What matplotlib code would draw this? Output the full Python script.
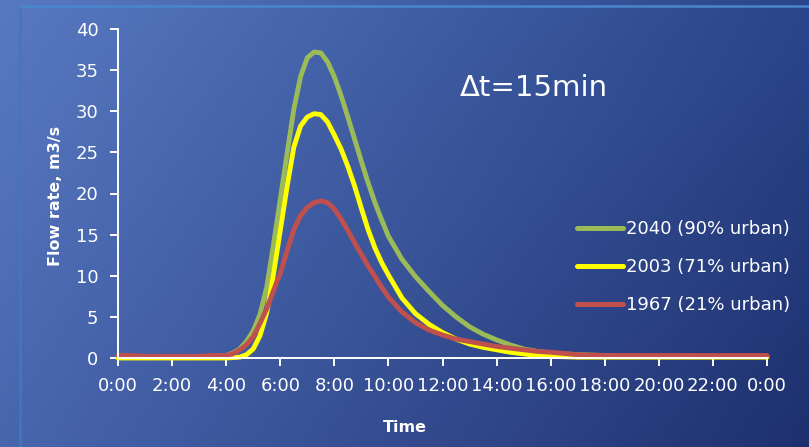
import numpy as np
import matplotlib
matplotlib.use("Agg")
import matplotlib.pyplot as plt
from matplotlib.lines import Line2D

# ---- data (hours, m3/s) ----
time_h = [0, 0.5, 1, 2, 3, 3.5,
          4.0, 4.25, 4.5, 4.75, 5.0, 5.25, 5.5, 5.75, 6.0, 6.25, 6.5, 6.75,
          7.0, 7.25, 7.5, 7.75, 8.0, 8.25, 8.5, 8.75, 9.0, 9.25, 9.5, 9.75, 10.0,
          10.5, 11, 11.5, 12, 12.5, 13, 13.5, 14, 14.5, 15, 15.5, 16,
          17, 18, 19, 20, 21, 22, 23, 24]

flow_2040 = [0.2, 0.2, 0.1, 0.1, 0.1, 0.2,
             0.3, 0.6, 1.1, 2.0, 3.3, 5.3, 8.6, 13.8, 19.3, 24.8, 30.2, 34.2,
             36.5, 37.2, 37.1, 36.0, 34.2, 31.9, 29.3, 26.6, 23.9, 21.3, 18.9, 16.8, 14.8,
             12.0, 9.9, 8.1, 6.4, 5.0, 3.8, 2.9, 2.2, 1.6, 1.1, 0.8, 0.6,
             0.4, 0.3, 0.2, 0.2, 0.2, 0.2, 0.2, 0.2]

flow_2003 = [0.0, 0.0, 0.0, 0.0, 0.0, 0.0,
             0.0, 0.05, 0.1, 0.4, 1.1, 2.7, 5.5, 10.2, 15.5, 20.8, 25.6, 28.2,
             29.3, 29.7, 29.6, 28.7, 27.1, 25.4, 23.3, 20.9, 18.2, 15.6, 13.4, 11.6, 10.1,
             7.3, 5.4, 4.1, 3.1, 2.3, 1.7, 1.3, 1.0, 0.7, 0.5, 0.3, 0.2,
             0.1, 0.1, 0.1, 0.1, 0.1, 0.1, 0.1, 0.1]

flow_1967 = [0.3, 0.3, 0.2, 0.2, 0.2, 0.3,
             0.3, 0.5, 1.0, 1.6, 2.6, 4.2, 6.0, 8.2, 10.3, 13.0, 15.6, 17.3,
             18.3, 18.9, 19.1, 18.9, 18.1, 16.9, 15.5, 14.0, 12.6, 11.2, 9.9, 8.6, 7.4,
             5.6, 4.3, 3.4, 2.8, 2.3, 2.0, 1.7, 1.4, 1.2, 1.0, 0.8, 0.7,
             0.4, 0.3, 0.3, 0.3, 0.3, 0.3, 0.3, 0.3]

series_labels = ["2040 (90% urban)", "2003 (71% urban)", "1967 (21% urban)"]
series_colors = ["#9bbb59", "#ffff00", "#c0504d"]

x_ticks = list(range(0, 25, 2))
x_tick_labels = ["0:00", "2:00", "4:00", "6:00", "8:00", "10:00", "12:00",
                 "14:00", "16:00", "18:00", "20:00", "22:00", "0:00"]
y_ticks = [0, 5, 10, 15, 20, 25, 30, 35, 40]

W, H = 809, 447
fig = plt.figure(figsize=(W / 100, H / 100), dpi=100)

# ---- gradient background ----
bg = fig.add_axes([0, 0, 1, 1], zorder=-10)
tl = np.array([88, 121, 194]) / 255
tr = np.array([42, 70, 138]) / 255
bl = np.array([72, 102, 174]) / 255
br = np.array([30, 48, 110]) / 255
u = np.linspace(0, 1, 200)[None, :, None]
v = np.linspace(0, 1, 120)[:, None, None]
img = (1 - v) * ((1 - u) * tl + u * tr) + v * ((1 - u) * bl + u * br)
bg.imshow(img, aspect="auto", extent=[0, 1, 0, 1], interpolation="bilinear")
bg.set_axis_off()

# frame lines
fig.add_artist(Line2D([20 / W, 20 / W], [0, 1 - 6 / H], transform=fig.transFigure,
                      color="#4079bb", lw=1.8))
fig.add_artist(Line2D([20 / W, 1], [1 - 6 / H, 1 - 6 / H], transform=fig.transFigure,
                      color="#4a86cc", lw=1.8))

# ---- main axes ----
ax = fig.add_axes([118 / W, 1 - 358 / H, (767 - 118) / W, (358 - 29) / H])
ax.set_facecolor("none")
for vals, lab, col in zip([flow_2040, flow_2003, flow_1967], series_labels, series_colors):
    ax.plot(time_h, vals, color=col, lw=3.5, label=lab, clip_on=False,
            solid_capstyle="round", solid_joinstyle="round")

ax.set_xlim(0, 24)
ax.set_ylim(0, 40)
ax.set_xticks(x_ticks)
ax.set_xticklabels(x_tick_labels)
ax.set_yticks(y_ticks)
for s in ["top", "right"]:
    ax.spines[s].set_visible(False)
for s in ["left", "bottom"]:
    ax.spines[s].set_color("white")
    ax.spines[s].set_linewidth(1.4)
ax.tick_params(axis="both", colors="white", labelcolor="white", width=1.4,
               length=5.5, direction="out", labelsize=13)
ax.tick_params(axis="y", pad=8.5)
ax.tick_params(axis="x", pad=8)

fig.text(55 / W, 1 - 196 / H, "Flow rate, m3/s", rotation=90, color="white",
         fontsize=11.5, fontweight="bold", ha="center", va="center")
fig.text(405 / W, 1 - 427 / H, "Time", color="white", fontsize=11.5,
         fontweight="bold", ha="center", va="center")
fig.text(460 / W, 1 - 96 / H, "\u0394t=15min", color="white", fontsize=21,
         ha="left", va="baseline")

leg = ax.legend(loc="center left", bbox_to_anchor=(577 / W, 1 - 267 / H),
                bbox_transform=fig.transFigure, frameon=False, fontsize=13,
                handlelength=2.55, handletextpad=0.15, labelspacing=1.1,
                borderpad=0, borderaxespad=0)
for t in leg.get_texts():
    t.set_color("white")
for h in leg.get_lines():
    h.set_linewidth(3.6)

fig.savefig("out.png", dpi=100)
